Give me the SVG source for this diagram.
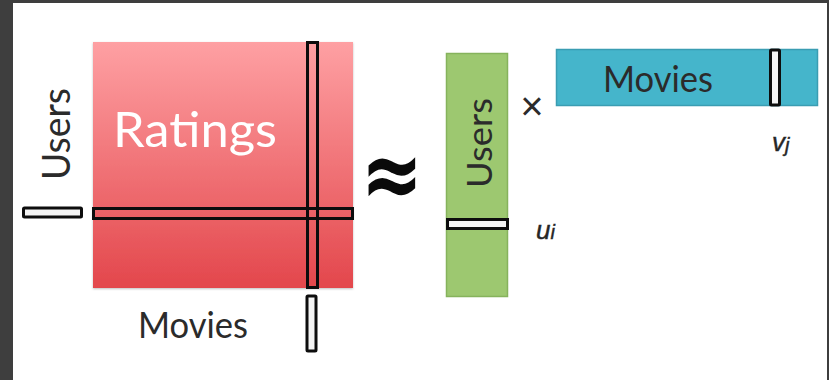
<svg xmlns="http://www.w3.org/2000/svg" width="829" height="380" viewBox="0 0 829 380">
  <defs>
    <linearGradient id="ratingsFill" x1="0" y1="0" x2="0" y2="1">
      <stop offset="0" stop-color="#fea0a3"/>
      <stop offset="1" stop-color="#e3474c"/>
    </linearGradient>
    <filter id="soft" x="-5%" y="-5%" width="110%" height="110%">
      <feDropShadow dx="0" dy="1" stdDeviation="1" flood-color="#000" flood-opacity="0.25"/>
    </filter>
  </defs>
  <style>
    .label { font-family: Lato, "Liberation Sans", sans-serif; fill: #2b2b2b; }
    .sel { stroke: #0d0d0d; stroke-width: 3; }
    .sel-open { fill: none; }
    .sel-white { fill: #f4f4f4; }
    .math { font-family: "Liberation Sans", Arial, sans-serif; font-style: italic; fill: #262626; stroke: #262626; stroke-width: 0.4; }
  </style>

  <!-- page and frame -->
  <rect x="0" y="0" width="829" height="380" fill="#ffffff"/>
  <rect x="0" y="0" width="13" height="380" fill="#3e3e3e"/>
  <rect x="0" y="0" width="829" height="3" fill="#3e3e3e"/>
  <rect x="827" y="0" width="2" height="380" fill="#3e3e3e"/>

  <!-- ratings matrix -->
  <g id="ratings">
    <rect x="93" y="42" width="260" height="246" fill="url(#ratingsFill)" filter="url(#soft)"/>
    <text x="195" y="147" text-anchor="middle" font-family="Lato, 'Liberation Sans', sans-serif" font-size="49" fill="#ffffff" textLength="164" lengthAdjust="spacingAndGlyphs">Ratings</text>
    <rect class="sel sel-open" x="307.5" y="42.5" width="10" height="245"/>
    <rect class="sel sel-open" x="93.5" y="208.5" width="259" height="10"/>
  </g>

  <!-- ratings axis labels -->
  <g id="ratings-users">
    <text class="label" transform="translate(70,134) rotate(-90)" text-anchor="middle" font-size="38" textLength="92" lengthAdjust="spacingAndGlyphs">Users</text>
    <rect class="sel sel-white" x="23.5" y="208" width="58" height="9" rx="1"/>
  </g>
  <g id="ratings-movies">
    <text class="label" x="193" y="338" text-anchor="middle" font-size="37" textLength="110" lengthAdjust="spacingAndGlyphs">Movies</text>
    <rect class="sel sel-white" x="307" y="296" width="9" height="55" rx="1"/>
  </g>

  <!-- approximately equal -->
  <g id="approx">
    <text transform="translate(392,181) scale(1.2,1.55)" y="17" text-anchor="middle" font-family="'DejaVu Sans', sans-serif" font-weight="bold" font-size="62" fill="#0a0a0a">≈</text>
  </g>

  <!-- user factor matrix -->
  <g id="users-factor">
    <rect x="446.5" y="53.5" width="61" height="243" fill="#9dc870" stroke="#86b35c" stroke-width="1.5"/>
    <text class="label" transform="translate(492,143) rotate(-90)" text-anchor="middle" font-size="34" textLength="90" lengthAdjust="spacingAndGlyphs">Users</text>
    <rect class="sel sel-white" x="447.5" y="219.5" width="60" height="9"/>
    <text class="math" x="536" y="239" font-size="26">u<tspan font-size="20">i</tspan></text>
  </g>

  <!-- times -->
  <g id="times">
    <text x="532" y="120" text-anchor="middle" font-family="'Liberation Sans', sans-serif" font-size="40" fill="#2b2b2b">×</text>
  </g>

  <!-- movie factor matrix -->
  <g id="movies-factor">
    <rect x="556.5" y="49.5" width="261" height="56" fill="#45b5cb" stroke="#3a9db2" stroke-width="1.5"/>
    <text class="label" x="658" y="92" text-anchor="middle" font-size="37" textLength="110" lengthAdjust="spacingAndGlyphs">Movies</text>
    <rect class="sel sel-white" x="770.5" y="50" width="9" height="55" rx="1"/>
    <text class="math" x="772" y="151" font-size="26">v<tspan font-size="20" dy="1">j</tspan></text>
  </g>

  <!-- selection links (none drawn) -->
  <g id="connectors"/>
</svg>
